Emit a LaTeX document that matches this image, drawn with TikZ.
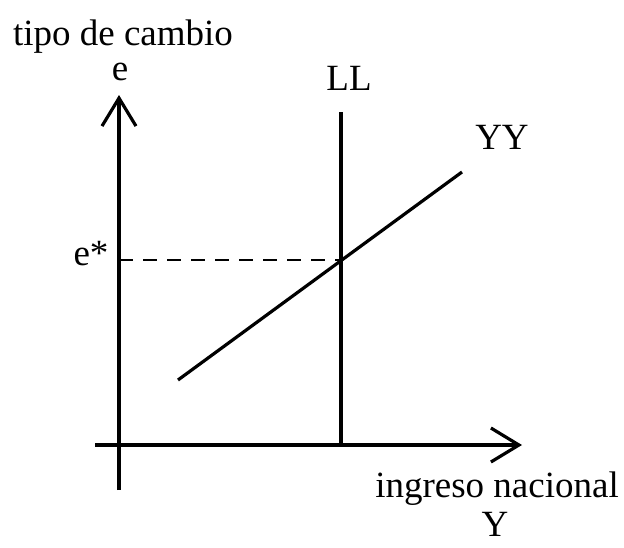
\documentclass[tikz,border=0pt]{standalone}
\usepackage{fontspec}
\setmainfont{Liberation Serif}
\usetikzlibrary{arrows.meta}

\begin{document}
\begin{tikzpicture}[x=1pt, y=-1pt, >={Straight Barb[length=28pt,width=34pt]},
  axis/.style={line width=3.2pt},
  lbl/.style={inner sep=0pt, anchor=base, font=\fontsize{37}{44}\selectfont}]
  \useasboundingbox (0,0) rectangle (624,547);

  % axes
  \coordinate (ytop) at (119,95);
  \coordinate (ybot) at (119,490);
  \coordinate (xleft) at (95,445);
  \coordinate (xtip) at (522,445);
  \draw[axis, ->] (ybot) -- (ytop);
  \draw[axis, ->] (xleft) -- (xtip);

  % LL and YY
  \coordinate (lltop) at (341,112);
  \coordinate (llbot) at (341,445);
  \coordinate (yylow) at (178,380);
  \coordinate (yyhigh) at (462,172);
  \coordinate (eq) at (341,260);
  \coordinate (estar) at (119,260);
  \draw[axis] (llbot) -- (lltop);
  \draw[axis] (yylow) -- (yyhigh);
  \draw[line width=1.6pt, dash pattern=on 14pt off 10pt] (estar) -- (eq);

  % labels
  \node[lbl] (tc) at (123,45) {tipo de cambio};
  \node[lbl] (e) at (120,80) {e};
  \node[lbl] (ll) at (349,90) {LL};
  \node[lbl] (yy) at (502,149) {YY};
  \node[lbl] (es) at (91,265) {e*};
  \node[lbl] (ing) at (497,497) {ingreso nacional};
  \node[lbl] (y) at (495,536) {Y};
\end{tikzpicture}
\end{document}
